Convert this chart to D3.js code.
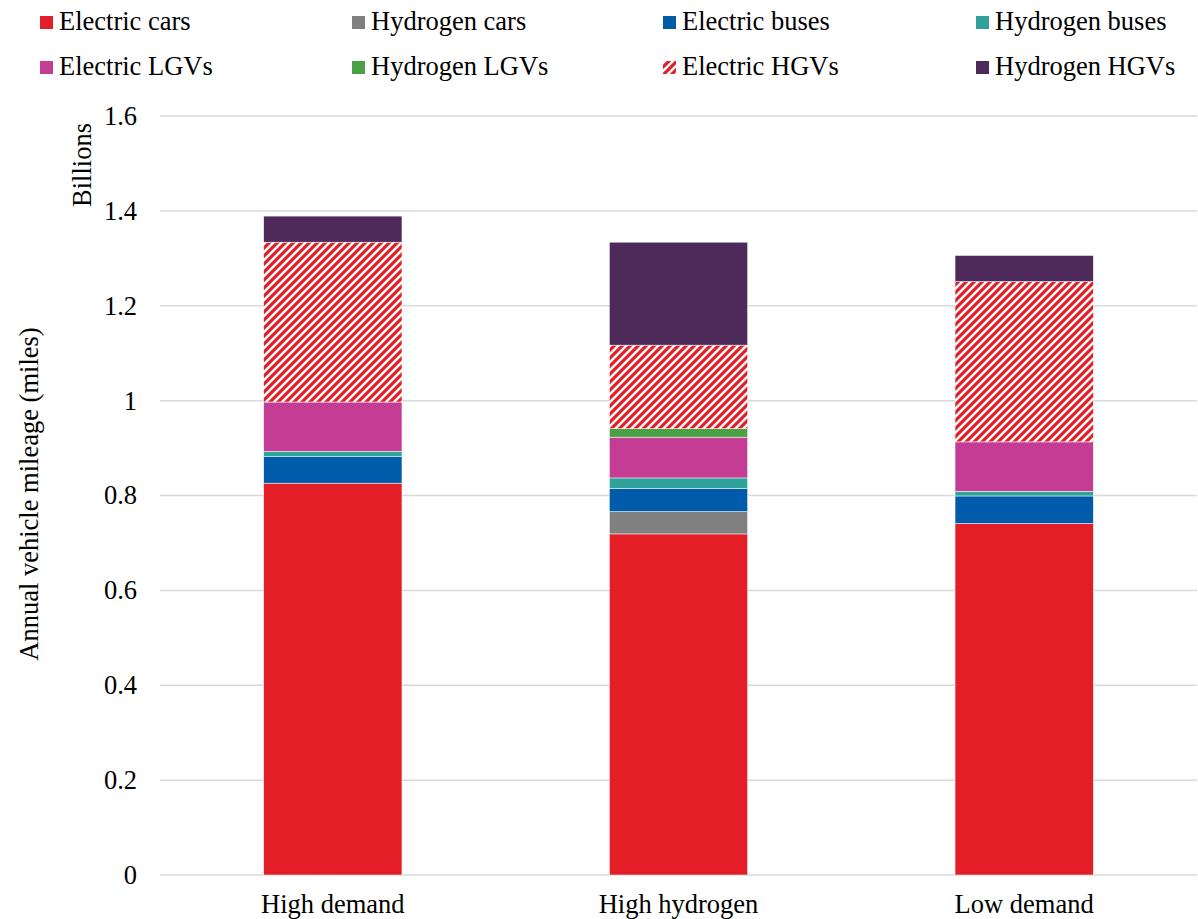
<!DOCTYPE html>
<html lang="en">
<head>
<meta charset="utf-8">
<title>Annual vehicle mileage</title>
<script src="https://d3js.org/d3.v7.min.js"></script>
<style>
  body { margin: 0; background: #fff; }
  svg text { font-family: "Liberation Serif", "Times New Roman", serif; fill: #000; }
</style>
</head>
<body>
<script>
// categories and series (billions of miles)
var categories = ["High demand", "High hydrogen", "Low demand"];
var seriesNames = ["Electric cars", "Hydrogen cars", "Electric buses", "Hydrogen buses",
                   "Electric LGVs", "Hydrogen LGVs", "Electric HGVs", "Hydrogen HGVs"];
var seriesColors = ["#e41e26", "#808080", "#005baa", "#2fa39a",
                    "#c43c94", "#4ba046", "url(#hatch)", "#4e2a5b"];

var electricCars   = [0.826, 0.719, 0.741];
var hydrogenCars   = [0,     0.047, 0];
var electricBuses  = [0.056, 0.049, 0.058];
var hydrogenBuses  = [0.011, 0.022, 0.010];
var electricLGVs   = [0.104, 0.086, 0.104];
var hydrogenLGVs   = [0,     0.018, 0];
var electricHGVs   = [0.337, 0.176, 0.338];
var hydrogenHGVs   = [0.055, 0.217, 0.055];

var tickValues = [0, 0.2, 0.4, 0.6, 0.8, 1, 1.2, 1.4, 1.6];

var seriesValues = [electricCars, hydrogenCars, electricBuses, hydrogenBuses,
                    electricLGVs, hydrogenLGVs, electricHGVs, hydrogenHGVs];

// build rows for d3.stack
var rows = categories.map(function(c, i) {
    var r = { category: c };
    seriesNames.forEach(function(s, j) { r[s] = seriesValues[j][i]; });
    return r;
});

var w = 1198, h = 919;
var plotLeft = 160, plotRight = 1197, plotTop = 116, plotBottom = 875;

var svg = d3.select("body").append("svg")
    .attr("width", w)
    .attr("height", h);

// hatch pattern for Electric HGVs
var pat = svg.append("defs").append("pattern")
    .attr("id", "hatch")
    .attr("patternUnits", "userSpaceOnUse")
    .attr("width", 8)
    .attr("height", 8);
pat.append("rect").attr("width", 8).attr("height", 8).attr("fill", "#fff");
pat.append("path")
    .attr("d", "M-2,2 L2,-2 M0,8 L8,0 M6,10 L10,6")
    .attr("stroke", "#e41e26")
    .attr("stroke-width", 3.2);

var x = d3.scaleBand()
    .domain(categories)
    .range([plotLeft, plotRight])
    .paddingInner(0.6)
    .paddingOuter(0.3);

var y = d3.scaleLinear()
    .domain([0, 1.6])
    .range([plotBottom, plotTop]);

// gridlines
svg.append("g")
    .selectAll("line")
    .data(tickValues)
    .enter()
    .append("line")
    .attr("x1", plotLeft)
    .attr("x2", plotRight)
    .attr("y1", function(d) { return y(d); })
    .attr("y2", function(d) { return y(d); })
    .attr("stroke", "#d9d9d9")
    .attr("stroke-width", 1.5);

// y axis labels
var yAxis = svg.append("g")
    .attr("transform", "translate(" + plotLeft + ",0)")
    .call(d3.axisLeft(y).tickValues(tickValues).tickFormat(d3.format("~g")).tickSize(0).tickPadding(23));
yAxis.select(".domain").remove();
yAxis.selectAll("text")
    .style("font-size", "26.5px")
    .style("font-family", "'Liberation Serif', 'Times New Roman', serif")
    .attr("fill", "#000");

// stacked bars
var stack = d3.stack().keys(seriesNames);
var layers = stack(rows);

svg.append("g")
    .selectAll("g")
    .data(layers)
    .enter()
    .append("g")
    .attr("fill", function(d, i) { return seriesColors[i]; })
    .selectAll("rect")
    .data(function(d) { return d.filter(function(p) { return p[1] - p[0] > 0; }); })
    .enter()
    .append("rect")
    .attr("x", function(d) { return x(d.data.category); })
    .attr("width", x.bandwidth())
    .attr("y", function(d) { return y(d[1]); })
    .attr("height", function(d) { return y(d[0]) - y(d[1]); })
    .attr("stroke", "#fff")
    .attr("stroke-width", 0.5);

// x axis labels
var xAxis = svg.append("g")
    .attr("transform", "translate(0," + plotBottom + ")")
    .call(d3.axisBottom(x).tickSize(0).tickPadding(19));
xAxis.select(".domain").remove();
xAxis.selectAll("text")
    .style("font-size", "26.5px")
    .style("font-family", "'Liberation Serif', 'Times New Roman', serif")
    .attr("fill", "#000");

// axis titles
svg.append("text")
    .attr("transform", "translate(38,494) rotate(-90)")
    .attr("text-anchor", "middle")
    .style("font-size", "26.5px")
    .text("Annual vehicle mileage (miles)");

svg.append("text")
    .attr("transform", "translate(91,207) rotate(-90)")
    .attr("text-anchor", "start")
    .style("font-size", "26.5px")
    .text("Billions");

// legend, 4 columns x 2 rows
var legendX = [40, 352, 663, 976];
var legendY = [30, 75];

var legend = svg.append("g")
    .selectAll("g")
    .data(seriesNames)
    .enter()
    .append("g")
    .attr("transform", function(d, i) {
        return "translate(" + legendX[i % 4] + "," + legendY[Math.floor(i / 4)] + ")";
    });

legend.append("rect")
    .attr("x", 0)
    .attr("y", -14)
    .attr("width", 13)
    .attr("height", 13)
    .attr("fill", function(d, i) { return seriesColors[i]; });

legend.append("text")
    .attr("x", 19)
    .attr("y", 0)
    .style("font-size", "26.5px")
    .text(function(d) { return d; });
</script>
</body>
</html>
